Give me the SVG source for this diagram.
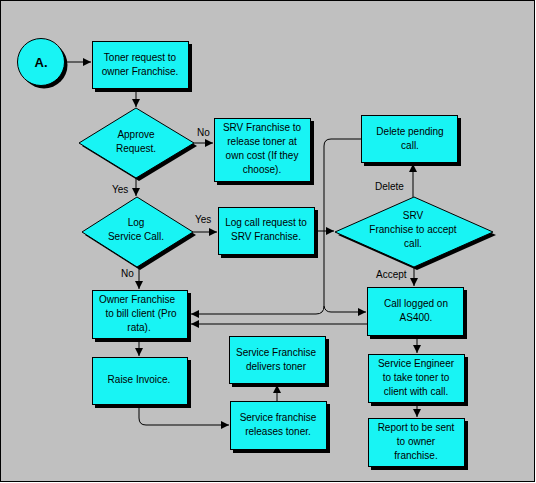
<svg xmlns="http://www.w3.org/2000/svg" width="536" height="483" viewBox="0 0 536 483">
<style>
.bx{fill:#18f4f4;stroke:#000;stroke-width:1}
.sh{fill:#000}
.t{font-family:"Liberation Sans",Arial,sans-serif;font-size:10px;fill:#000;text-anchor:middle}
.l{font-family:"Liberation Sans",Arial,sans-serif;font-size:10px;fill:#000}
.c{fill:none;stroke:#000;stroke-width:1}
</style>
<defs>
<marker id="ar" markerUnits="userSpaceOnUse" markerWidth="9" markerHeight="8" refX="8" refY="4" orient="auto">
<path d="M0,0 L8,4 L0,8 z" fill="#000"/>
</marker>
</defs>
<rect x="0.5" y="0.5" width="534" height="481" fill="#c0c0c0" stroke="#000" stroke-width="1"/>
<g id="connectors">
<path class="c" d="M64,62 H91" marker-end="url(#ar)"/>
<path class="c" d="M136,89 V107" marker-end="url(#ar)"/>
<path class="c" d="M194,143 H213" marker-end="url(#ar)"/>
<path class="c" d="M136,178 V196" marker-end="url(#ar)"/>
<path class="c" d="M193,232 H217" marker-end="url(#ar)"/>
<path class="c" d="M315,231 H334" marker-end="url(#ar)"/>
<path class="c" d="M413,197 V164" marker-end="url(#ar)"/>
<path class="c" d="M414,267 V286" marker-end="url(#ar)"/>
<path class="c" d="M139,267 V289" marker-end="url(#ar)"/>
<path class="c" d="M139,338 V356" marker-end="url(#ar)"/>
<path class="c" d="M139,404 V418 Q139,425 146,425 H229" marker-end="url(#ar)"/>
<path class="c" d="M277,401 V385" marker-end="url(#ar)"/>
<path class="c" d="M417,336 V353" marker-end="url(#ar)"/>
<path class="c" d="M417,402 V417" marker-end="url(#ar)"/>
<path class="c" d="M361,139 H331 Q324,139 324,146 V306 Q324,314 316,314 H191" marker-end="url(#ar)"/>
<path class="c" d="M324,306 Q325,312 331,312 H366" marker-end="url(#ar)"/>
<path class="c" d="M367,324 H191" marker-end="url(#ar)"/>
</g>
<g class="l">
<text x="197" y="136">No</text>
<text x="112" y="193">Yes</text>
<text x="195" y="223">Yes</text>
<text x="121" y="277">No</text>
<text x="375" y="190">Delete</text>
<text x="376" y="278">Accept</text>
</g>
<g id="start">
<circle cx="44" cy="65" r="23.5" class="sh"/>
<circle cx="41" cy="62" r="23.5" class="bx"/>
<text x="41" y="67" class="t" style="font-weight:bold;font-size:13px">A.</text>
</g>
<g id="toner-request">
<rect x="95" y="44" width="97" height="48" class="sh"/>
<rect x="92.5" y="41.5" width="96" height="47" class="bx"/>
<text class="t" x="140" y="61">Toner request to</text>
<text class="t" x="140" y="75">owner Franchise.</text>
</g>
<g id="approve">
<polygon points="139,111 197,146 139,181 82,146" class="sh"/>
<polygon points="136,108 194,143 136,178 79,143" class="bx"/>
<text class="t" x="136" y="138">Approve</text>
<text class="t" x="136" y="152">Request.</text>
</g>
<g id="srv-release">
<rect x="217" y="121" width="97" height="64" class="sh"/>
<rect x="214.5" y="118.5" width="96" height="63" class="bx"/>
<text class="t" x="262" y="131">SRV Franchise to</text>
<text class="t" x="262" y="145">release toner at</text>
<text class="t" x="262" y="159">own cost (If they</text>
<text class="t" x="262" y="173">choose).</text>
</g>
<g id="log-service">
<polygon points="140,200 196,235 140,270 85,235" class="sh"/>
<polygon points="137,197 193,232 137,267 82,232" class="bx"/>
<text class="t" x="136" y="226">Log</text>
<text class="t" x="136" y="240">Service Call.</text>
</g>
<g id="log-call-request">
<rect x="221" y="210" width="97" height="48" class="sh"/>
<rect x="218.5" y="207.5" width="96" height="47" class="bx"/>
<text class="t" x="266" y="226">Log call request to</text>
<text class="t" x="266" y="240">SRV Franchise.</text>
</g>
<g id="srv-accept">
<polygon points="417,200 496,235 417,270 338,235" class="sh"/>
<polygon points="414,197 493,232 414,267 335,232" class="bx"/>
<text class="t" x="413" y="219">SRV</text>
<text class="t" x="413" y="233">Franchise to accept</text>
<text class="t" x="413" y="247">call.</text>
</g>
<g id="delete-pending">
<rect x="364" y="118" width="97" height="48" class="sh"/>
<rect x="361.5" y="115.5" width="96" height="47" class="bx"/>
<text class="t" x="410" y="135">Delete pending</text>
<text class="t" x="410" y="149">call.</text>
</g>
<g id="call-logged">
<rect x="370" y="290" width="97" height="49" class="sh"/>
<rect x="367.5" y="287.5" width="96" height="48" class="bx"/>
<text class="t" x="416" y="307">Call logged on</text>
<text class="t" x="416" y="321">AS400.</text>
</g>
<g id="owner-bill">
<rect x="95" y="293" width="96" height="49" class="sh"/>
<rect x="92.5" y="290.5" width="95" height="48" class="bx"/>
<text class="t" x="137" y="303">Owner Franchise</text>
<text class="t" x="141" y="317">to bill client (Pro</text>
<text class="t" x="139" y="331">rata).</text>
</g>
<g id="raise-invoice">
<rect x="95" y="360" width="96" height="48" class="sh"/>
<rect x="92.5" y="357.5" width="95" height="47" class="bx"/>
<text class="t" x="139" y="383">Raise Invoice.</text>
</g>
<g id="delivers-toner">
<rect x="232" y="339" width="97" height="48" class="sh"/>
<rect x="229.5" y="336.5" width="96" height="47" class="bx"/>
<text class="t" x="276" y="356">Service Franchise</text>
<text class="t" x="276" y="370">delivers toner</text>
</g>
<g id="releases-toner">
<rect x="233" y="404" width="97" height="49" class="sh"/>
<rect x="230.5" y="401.5" width="96" height="48" class="bx"/>
<text class="t" x="278" y="421">Service franchise</text>
<text class="t" x="278" y="435">releases toner.</text>
</g>
<g id="service-engineer">
<rect x="371" y="357" width="97" height="49" class="sh"/>
<rect x="368.5" y="354.5" width="96" height="48" class="bx"/>
<text class="t" x="416" y="367">Service Engineer</text>
<text class="t" x="416" y="381">to take toner to</text>
<text class="t" x="416" y="395">client with call.</text>
</g>
<g id="report">
<rect x="371" y="421" width="97" height="49" class="sh"/>
<rect x="368.5" y="418.5" width="96" height="48" class="bx"/>
<text class="t" x="416" y="431">Report to be sent</text>
<text class="t" x="416" y="445">to owner</text>
<text class="t" x="416" y="459">franchise.</text>
</g>
</svg>
